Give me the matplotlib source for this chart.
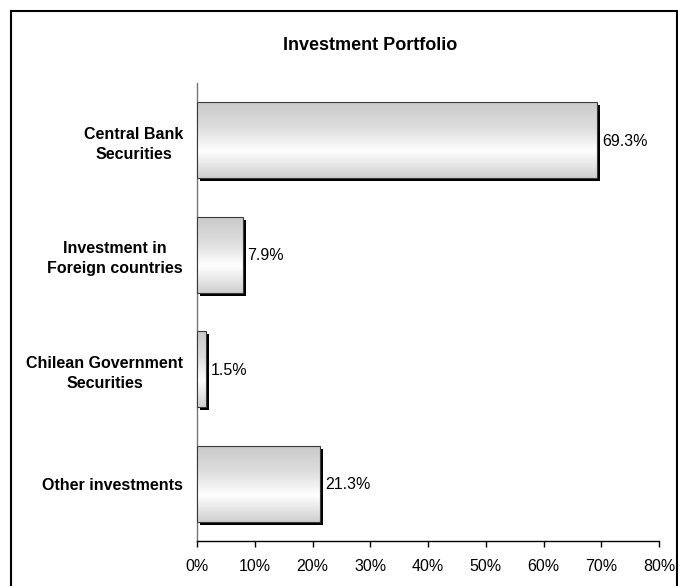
import matplotlib
matplotlib.use('Agg')
import matplotlib.pyplot as plt
import numpy as np
import matplotlib.transforms as mtransforms
from matplotlib.patches import Rectangle
from matplotlib.colors import LinearSegmentedColormap

categories = ["Central Bank\nSecurities", "Investment in\nForeign countries",
              "Chilean Government\nSecurities", "Other investments"]
values = [69.3, 7.9, 1.5, 21.3]
value_labels = ["69.3%", "7.9%", "1.5%", "21.3%"]
ticks = [0, 10, 20, 30, 40, 50, 60, 70, 80]
tick_labels = ["0%", "10%", "20%", "30%", "40%", "50%", "60%", "70%", "80%"]
title = "Investment Portfolio"

plt.rcParams['font.family'] = ['Liberation Sans', 'DejaVu Sans']

W, H = 678, 586
fig = plt.figure(figsize=(W / 100, H / 100), dpi=100)
ax = fig.add_axes([197 / W, 1 - 541 / H, 462 / W, 458 / H])

bar_h = 0.665
ypos = np.arange(len(categories))
bars = ax.barh(ypos, values, height=bar_h, color='none',
               edgecolor='#3a3a3a', linewidth=0.8, zorder=4)

cmap = LinearSegmentedColormap.from_list(
    'g', [(0.0, '#c9c9c9'), (0.35, '#dedede'), (0.65, '#ffffff'), (1.0, '#cfcfcf')])
grad = np.linspace(0, 1, 256).reshape(-1, 1)
shadow_tr = mtransforms.offset_copy(ax.transData, fig=fig, x=3, y=-3, units='dots')

for bar in bars:
    x0, y0 = bar.get_x(), bar.get_y()
    w, h = bar.get_width(), bar.get_height()
    ax.add_patch(Rectangle((x0, y0), w, h, facecolor='black', edgecolor='none',
                           transform=shadow_tr, zorder=2))
    im = ax.imshow(grad, extent=(x0, x0 + w, y0 + h, y0), aspect='auto',
                   cmap=cmap, origin='upper', zorder=3, interpolation='bilinear')
    clip = Rectangle((x0, y0), w, h, transform=ax.transData, facecolor='none')
    im.set_clip_path(clip)

for yi, v, lab in zip(ypos, values, value_labels):
    ax.annotate(lab, xy=(v, yi), xytext=(5, -1), textcoords='offset pixels',
                ha='left', va='center', fontsize=11.5, color='black')

ax.set_xlim(0, 80)
ax.set_ylim(len(categories) - 0.5, -0.5)
ax.set_xticks(ticks)
ax.set_xticklabels(tick_labels, fontsize=11.5)
ax.set_yticks(ypos)
ax.set_yticklabels(categories, fontsize=11.5, fontweight='bold')
for lbl in ax.get_yticklabels():
    lbl.set_multialignment('center')
    lbl.set_linespacing(1.4)
ax.tick_params(axis='y', length=0, pad=10)
ax.tick_params(axis='x', direction='out', length=4, width=1, pad=9, color='black')

for s in ['top', 'right']:
    ax.spines[s].set_visible(False)
ax.spines['left'].set_color('#777777')
ax.spines['left'].set_linewidth(1)
ax.spines['bottom'].set_color('black')
ax.spines['bottom'].set_linewidth(1)
ax.set_facecolor('none')

fig.text(370 / W, 1 - 45 / H, title, ha='center', va='center',
         fontsize=13, fontweight='bold')

frame = Rectangle((11 / W, -0.05), (677 - 11) / W, 1 - 11 / H + 0.05,
                  transform=fig.transFigure, facecolor='none',
                  edgecolor='black', linewidth=1.5, clip_on=False)
fig.patches.append(frame)

fig.savefig('out.png', dpi=100)
